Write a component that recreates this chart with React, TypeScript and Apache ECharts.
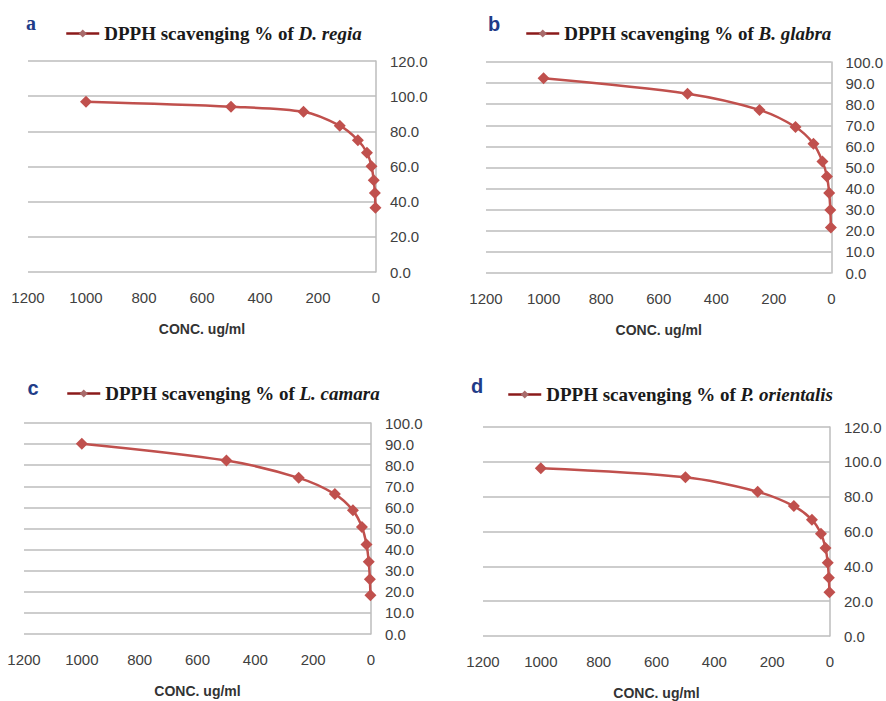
import React, { useEffect, useRef } from "react";
import * as echarts from "echarts";

const concentrations = [1000, 500, 250, 125, 62.5, 31.25, 15.625, 7.8125, 3.90625, 1.953125];

const regiaValues = [96.8, 94.0, 91.1, 83.2, 75.0, 67.8, 60.2, 52.2, 45.0, 36.6];
const glabraValues = [92.3, 85.0, 77.3, 69.2, 61.3, 52.9, 45.7, 37.9, 29.9, 21.6];
const camaraValues = [90.2, 82.2, 74.0, 66.3, 58.6, 50.7, 42.4, 34.3, 26.0, 18.4];
const orientalisValues = [96.3, 91.1, 82.8, 74.6, 66.8, 58.7, 50.5, 42.0, 33.4, 25.1];

const panelLetters = ["a", "b", "c", "d"];
const speciesNames = ["D. regia", "B. glabra", "L. camara", "P. orientalis"];
const yMaxes = [120, 100, 100, 120];
const yIntervals = [20, 10, 10, 20];
const xAxisTitle = "CONC. ug/ml";

const seriesValues = [regiaValues, glabraValues, camaraValues, orientalisValues];

const grids = [
  { left: 28, top: 61, width: 348, height: 211 },
  { left: 486, top: 62, width: 347, height: 211 },
  { left: 24, top: 423, width: 347, height: 211 },
  { left: 483, top: 427, width: 347, height: 210 },
];
const legendPos = [
  { left: 65, top: 24 },
  { left: 525, top: 24 },
  { left: 66, top: 384 },
  { left: 507, top: 385 },
];
const letterPos = [
  { x: 31, y: 23 },
  { x: 494, y: 24 },
  { x: 33, y: 388 },
  { x: 477, y: 386 },
];

const LINE_RED = "#C0504D";
const GRID_GRAY = "#BDBDBD";
const LABEL_FONT = "'Liberation Sans', Arial, sans-serif";
const SERIF_FONT = "'Liberation Serif', 'Times New Roman', serif";

export default function App() {
  const ref = useRef<HTMLDivElement>(null);

  useEffect(() => {
    if (!ref.current) return;
    const chart = echarts.init(ref.current, undefined, { renderer: "svg" });

    const seriesName = (i: number) => "DPPH scavenging % of " + speciesNames[i];

    const option: any = {
      animation: false,
      backgroundColor: "#ffffff",
      grid: grids.map((g) => ({ ...g, containLabel: false })),
      xAxis: grids.map((_, i) => ({
        type: "value",
        gridIndex: i,
        min: 0,
        max: 1200,
        interval: 200,
        inverse: true,
        axisLine: { show: false },
        axisTick: { show: false },
        splitLine: { show: false },
        axisLabel: {
          margin: 18,
          fontSize: 15,
          fontFamily: LABEL_FONT,
          color: "#404040",
          formatter: (v: number) => String(v),
        },
        name: xAxisTitle,
        nameLocation: "middle",
        nameGap: 50,
        nameTextStyle: {
          fontSize: 14,
          fontWeight: "bold",
          fontFamily: LABEL_FONT,
          color: "#333333",
        },
      })),
      yAxis: grids.map((_, i) => ({
        type: "value",
        gridIndex: i,
        position: "right",
        min: 0,
        max: yMaxes[i],
        interval: yIntervals[i],
        axisLine: { show: true, lineStyle: { color: GRID_GRAY, width: 1.5 } },
        axisTick: { show: false },
        splitLine: { show: true, lineStyle: { color: GRID_GRAY, width: 1.5 } },
        axisLabel: {
          margin: 14,
          fontSize: 15,
          fontFamily: LABEL_FONT,
          color: "#404040",
          formatter: (v: number) => v.toFixed(1),
        },
      })),
      legend: grids.map((_, i) => ({
        data: [seriesName(i)],
        left: legendPos[i].left,
        top: legendPos[i].top,
        itemWidth: 33,
        itemHeight: 10,
        padding: 0,
        itemStyle: { color: "#A86A6A" },
        lineStyle: { color: "#8B1A1A", width: 2.5 },
        formatter: () =>
          "{b|DPPH scavenging % of }{i|" + speciesNames[i] + "}",
        textStyle: {
          rich: {
            b: {
              fontFamily: SERIF_FONT,
              fontWeight: "bold",
              fontSize: 19,
              color: "#1a1a1a",
            },
            i: {
              fontFamily: SERIF_FONT,
              fontWeight: "bold",
              fontStyle: "italic",
              fontSize: 19,
              color: "#1a1a1a",
            },
          },
        },
      })),
      series: seriesValues.map((vals, i) => ({
        name: seriesName(i),
        type: "line",
        xAxisIndex: i,
        yAxisIndex: i,
        smooth: 0.3,
        symbol: "diamond",
        symbolSize: 12,
        data: concentrations.map((c, k) => [c, vals[k]]),
        lineStyle: { color: LINE_RED, width: 2.5 },
        itemStyle: { color: LINE_RED },
      })),
      graphic: panelLetters.map((t, i) => ({
        type: "text",
        x: letterPos[i].x,
        y: letterPos[i].y,
        style: {
          text: t,
          fontSize: 20,
          fontWeight: "bold",
          fontFamily: i === 0 ? SERIF_FONT : LABEL_FONT,
          fill: "#1F3C88",
          align: "center",
          verticalAlign: "middle",
        },
      })),
    };

    chart.setOption(option);
    return () => chart.dispose();
  }, []);

  return (
    <div
      ref={ref}
      style={{ position: "fixed", left: 0, top: 0, width: 886, height: 701 }}
    />
  );
}
